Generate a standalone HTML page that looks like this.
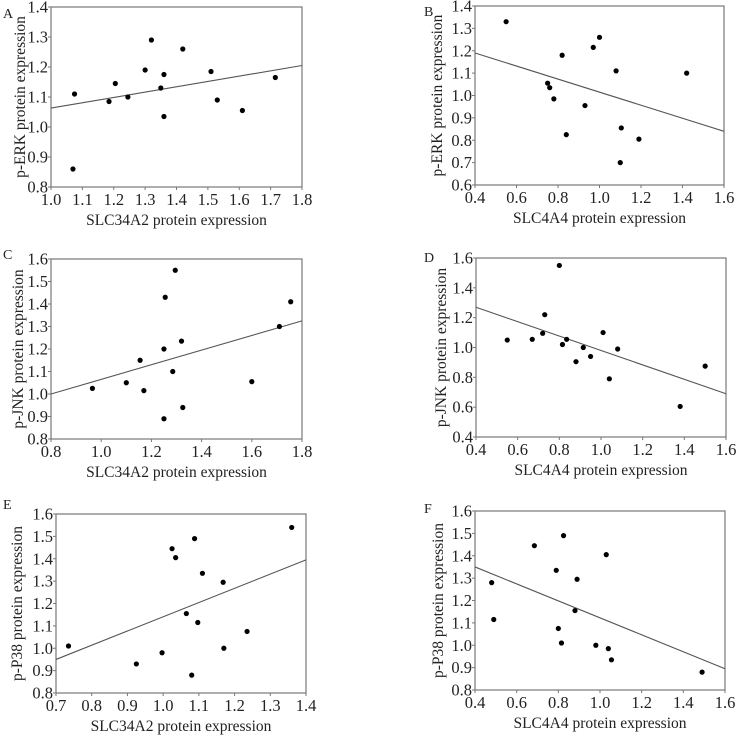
<!DOCTYPE html>
<html><head><meta charset="utf-8"><style>
html,body{margin:0;padding:0;background:#fff}
svg{display:block}
text{font-family:"Liberation Serif","Times New Roman",serif;fill:#222}
</style></head><body>
<svg id="fig" width="738" height="740" viewBox="0 0 738 740" xmlns="http://www.w3.org/2000/svg" font-family="Liberation Serif, serif"></svg>
<script>
// Panel A
const aX=[1.07,1.075,1.185,1.205,1.245,1.30,1.32,1.35,1.36,1.36,1.42,1.51,1.53,1.61,1.715];
const aY=[0.86,1.11,1.085,1.145,1.10,1.19,1.29,1.13,1.175,1.035,1.26,1.185,1.09,1.055,1.165];
const aLine=[1.063,1.205];
const aXTicks=["1.0","1.1","1.2","1.3","1.4","1.5","1.6","1.7","1.8"];
const aYTicks=["0.8","0.9","1.0","1.1","1.2","1.3","1.4"];
// Panel B
const bX=[0.55,0.75,0.76,0.78,0.82,0.84,0.93,0.97,1.0,1.08,1.105,1.10,1.19,1.42];
const bY=[1.33,1.055,1.035,0.985,1.18,0.825,0.955,1.215,1.26,1.11,0.855,0.70,0.805,1.10];
const bLine=[1.19,0.84];
const bXTicks=["0.4","0.6","0.8","1.0","1.2","1.4","1.6"];
const bYTicks=["0.6","0.7","0.8","0.9","1.0","1.1","1.2","1.3","1.4"];
// Panel C
const cX=[0.965,1.10,1.155,1.17,1.25,1.255,1.25,1.285,1.295,1.32,1.325,1.60,1.71,1.755];
const cY=[1.025,1.05,1.15,1.015,1.2,1.43,0.89,1.1,1.55,1.235,0.94,1.055,1.30,1.41];
const cLine=[1.0,1.325];
const cXTicks=["0.8","1.0","1.2","1.4","1.6","1.8"];
const cYTicks=["0.8","0.9","1.0","1.1","1.2","1.3","1.4","1.5","1.6"];
// Panel D
const dX=[0.55,0.67,0.72,0.73,0.80,0.815,0.835,0.88,0.915,0.95,1.01,1.04,1.08,1.38,1.50];
const dY=[1.05,1.055,1.095,1.22,1.55,1.02,1.055,0.905,1.0,0.94,1.10,0.79,0.99,0.605,0.875];
const dLine=[1.27,0.69];
const dXTicks=["0.4","0.6","0.8","1.0","1.2","1.4","1.6"];
const dYTicks=["0.4","0.6","0.8","1.0","1.2","1.4","1.6"];
// Panel E
const eX=[0.735,0.925,0.997,1.025,1.035,1.065,1.08,1.088,1.097,1.11,1.168,1.17,1.235,1.36];
const eY=[1.01,0.93,0.98,1.445,1.405,1.155,0.88,1.49,1.115,1.335,1.295,1.0,1.075,1.54];
const eLine=[0.95,1.395];
const eXTicks=["0.7","0.8","0.9","1.0","1.1","1.2","1.3","1.4"];
const eYTicks=["0.8","0.9","1.0","1.1","1.2","1.3","1.4","1.5","1.6"];
// Panel F
const fX=[0.48,0.49,0.685,0.79,0.80,0.815,0.825,0.88,0.89,0.98,1.03,1.04,1.055,1.49];
const fY=[1.28,1.115,1.445,1.335,1.075,1.01,1.49,1.155,1.295,1.0,1.405,0.985,0.935,0.88];
const fLine=[1.35,0.895];
const fXTicks=["0.4","0.6","0.8","1.0","1.2","1.4","1.6"];
const fYTicks=["0.8","0.9","1.0","1.1","1.2","1.3","1.4","1.5","1.6"];

const svg=document.getElementById('fig');
const NS='http://www.w3.org/2000/svg';
function mk(tag,attrs,parent){const e=document.createElementNS(NS,tag);for(const k in attrs)e.setAttribute(k,attrs[k]);parent.appendChild(e);return e;}

const panels=[
 {id:'a',L:'A',lx:3,ly:18,x0:51,x1:302,y0:7,y1:187,to:26,xs:aX,ys:aY,line:aLine,xt:aXTicks,yt:aYTicks,xl:'SLC34A2 protein expression',yl:'p-ERK protein expression'},
 {id:'b',L:'B',lx:424,ly:16,x0:475,x1:724,y0:6,y1:185,to:33,xs:bX,ys:bY,line:bLine,xt:bXTicks,yt:bYTicks,xl:'SLC4A4 protein expression',yl:'p-ERK protein expression'},
 {id:'c',L:'C',lx:3,ly:259,x0:51,x1:302,y0:259,y1:439,to:28,xs:cX,ys:cY,line:cLine,xt:cXTicks,yt:cYTicks,xl:'SLC34A2 protein expression',yl:'p-JNK protein expression'},
 {id:'d',L:'D',lx:424,ly:262,x0:476,x1:726,y0:258,y1:437,to:30,xs:dX,ys:dY,line:dLine,xt:dXTicks,yt:dYTicks,xl:'SLC4A4 protein expression',yl:'p-JNK protein expression'},
 {id:'e',L:'E',lx:3,ly:509,x0:56,x1:306,y0:514,y1:693,to:34,xs:eX,ys:eY,line:eLine,xt:eXTicks,yt:eYTicks,xl:'SLC34A2 protein expression',yl:'p-P38 protein expression'},
 {id:'f',L:'F',lx:424,ly:513,x0:475,x1:725,y0:511,y1:690,to:32,xs:fX,ys:fY,line:fLine,xt:fXTicks,yt:fYTicks,xl:'SLC4A4 protein expression',yl:'p-P38 protein expression'}
];

panels.forEach(p=>{
 const g=mk('g',{},svg);
 
 
 const xmin=+p.xt[0],xmax=+p.xt[p.xt.length-1],ymin=+p.yt[0],ymax=+p.yt[p.yt.length-1];
 const sx=v=>p.x0+(v-xmin)/(xmax-xmin)*(p.x1-p.x0);
 const sy=v=>p.y1-(v-ymin)/(ymax-ymin)*(p.y1-p.y0);
 const lab=mk('text',{x:p.lx,y:p.ly,'font-size':14},g);lab.textContent=p.L;
 
 
 const fr=mk('rect',{x:p.x0,y:p.y0,width:p.x1-p.x0,height:p.y1-p.y0,fill:'none',stroke:'#777','stroke-width':1.2},g);
 
 
 p.yt.forEach(t=>{
  const y=sy(+t);
  mk('line',{x1:p.x0-3,x2:p.x0,y1:y,y2:y,stroke:'#777'},g);
  const tx=mk('text',{x:p.x0-3,y:y+5.5,'font-size':16.5,'text-anchor':'end'},g);tx.textContent=t;
  
  
 });
 p.xt.forEach(t=>{
  const x=sx(+t);
  mk('line',{x1:x,x2:x,y1:p.y1,y2:p.y1+3,stroke:'#777'},g);
  const tx=mk('text',{x:x,y:p.y1+18,'font-size':16.5,'text-anchor':'middle'},g);tx.textContent=t;
  
  
 });
 const xt=mk('text',{x:(p.x0+p.x1)/2,y:p.y1+38,'font-size':15.5,'text-anchor':'middle'},g);xt.textContent=p.xl;
 
 
 const yx=p.x0-p.to,ym=(p.y0+p.y1)/2;
 const yt=mk('text',{x:yx,y:ym,'font-size':15.5,'text-anchor':'middle',transform:`rotate(-90 ${yx} ${ym})`},g);yt.textContent=p.yl;
 
 
 const ln=mk('line',{x1:sx(xmin),y1:sy(p.line[0]),x2:sx(xmax),y2:sy(p.line[1]),stroke:'#555','stroke-width':1.1},g);
 
 
 p.xs.forEach((v,i)=>{
  const c=mk('circle',{cx:sx(v),cy:sy(p.ys[i]),r:2.6,fill:'#000'},g);
  
  
 });
});
</script>
</body></html>
